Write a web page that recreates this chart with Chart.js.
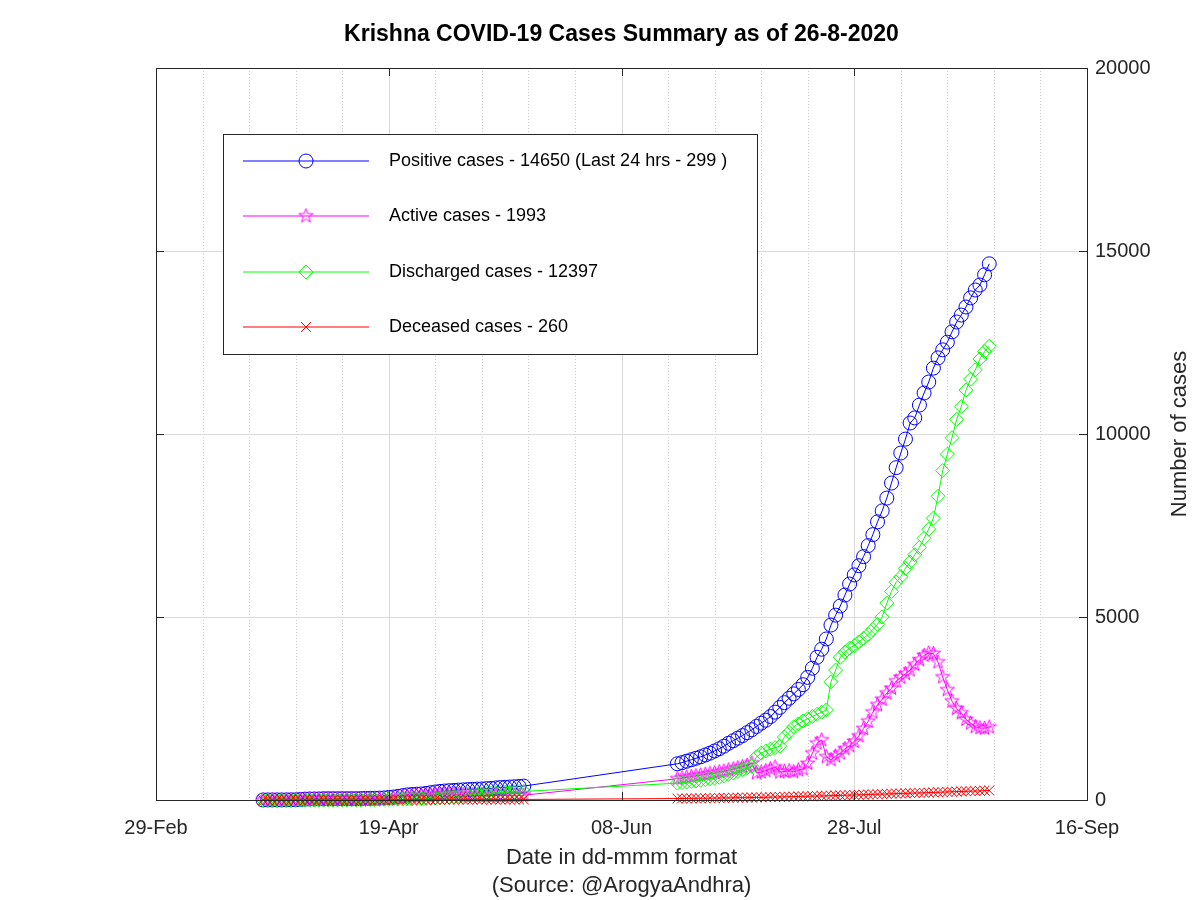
<!DOCTYPE html>
<html>
<head>
<meta charset="utf-8">
<script src="https://cdn.jsdelivr.net/npm/chart.js@4.4.1/dist/chart.umd.min.js"></script>
<style>
  html, body { margin: 0; padding: 0; background: #fff; }
</style>
</head>
<body>
<canvas id="chart" width="1200" height="900"></canvas>
<script>
/* --- data (days counted from 29-Feb-2020) --- */
const xTickLabels = ['29-Feb', '19-Apr', '08-Jun', '28-Jul', '16-Sep'];
const seriesNames = [
  'Positive cases - 14650 (Last 24 hrs - 299 )',
  'Active cases - 1993',
  'Discharged cases - 12397',
  'Deceased cases - 260'
];
// two reporting stretches: 23-Mar .. 18-May and 20-Jun .. 26-Aug
const firstStretch = [23, 79];
const secondStretch = [112, 179];

const positive = [
  1, 1, 2, 2, 2, 3, 4, 5, 15, 23,
  28, 28, 29, 35, 35, 35, 35, 36, 36, 36,
  36, 40, 44, 45, 48, 52, 56, 70, 80, 100,
  120, 140, 150, 158, 165, 180, 200, 220, 235, 245,
  255, 262, 270, 278, 285, 292, 298, 302, 310, 316,
  330, 340, 348, 355, 362, 370, 380,
  990, 1020, 1060, 1100, 1140, 1180, 1230, 1280, 1340, 1400,
  1470, 1550, 1620, 1690, 1760, 1840, 1920, 2010, 2100, 2180,
  2280, 2400, 2530, 2660, 2780, 2900, 3020, 3150, 3350, 3600,
  3900, 4120, 4400, 4780, 5050, 5300, 5600, 5900, 6150, 6400,
  6650, 6950, 7250, 7600, 7900, 8250, 8660, 9080, 9480, 9860,
  10300, 10440, 10790, 11120, 11420, 11800, 12080, 12300, 12510, 12790,
  13060, 13250, 13470, 13720, 13934, 14071, 14351, 14650
];
const active = [
  1, 1, 2, 2, 2, 3, 4, 5, 14, 22,
  27, 27, 28, 34, 34, 34, 33, 34, 33, 33,
  31, 33, 34, 33, 33, 35, 36, 47, 54, 70,
  88, 106, 114, 120, 122, 132, 147, 160, 167, 166,
  164, 158, 152, 148, 143, 136, 132, 126, 123, 119,
  123, 124, 125, 125, 126, 127, 130,
  580, 600, 620, 640, 660, 680, 700, 720, 740, 770,
  790, 820, 850, 880, 910, 950, 1010, 740, 760, 800,
  850, 900, 760, 780, 800, 770, 820, 850, 1000, 1280,
  1550, 1640, 1180, 1100, 1200, 1280, 1400, 1480, 1600, 1750,
  1950, 2150, 2400, 2600, 2750, 2920, 3050, 3250, 3350, 3450,
  3550, 3700, 3830, 3950, 4016, 4000, 3770, 3360, 3010, 2700,
  2500, 2380, 2200, 2100, 2000, 1970, 1960, 1993
];
const discharged = [
  0, 0, 0, 0, 0, 0, 0, 0, 0, 0,
  0, 0, 0, 0, 0, 0, 1, 1, 2, 2,
  3, 5, 8, 10, 12, 14, 16, 18, 20, 22,
  24, 26, 28, 30, 35, 40, 45, 52, 60, 70,
  82, 95, 108, 120, 132, 145, 155, 165, 175, 185,
  195, 203, 210, 216, 222, 228, 235,
  460, 475, 490, 505, 520, 540, 560, 580, 600, 620,
  660, 700, 740, 780, 830, 880, 920, 1180, 1280, 1340,
  1390, 1430, 1470, 1720, 1850, 2000, 2080, 2160, 2220, 2280,
  2340, 2400, 2460, 3230, 3550, 3900, 4040, 4150, 4220, 4320,
  4420, 4520, 4660, 4800, 5000, 5380, 5700, 5950, 6100, 6330,
  6500, 6700, 6900, 7150, 7400, 7700, 8300, 9000, 9450, 9900,
  10400, 10750, 11200, 11500, 11750, 12050, 12250, 12397
];
const deceased = [
  0, 0, 0, 0, 0, 0, 0, 0, 1, 1,
  1, 1, 1, 1, 1, 1, 1, 1, 1, 1,
  2, 2, 2, 2, 3, 3, 4, 5, 6, 8,
  8, 8, 8, 8, 8, 8, 8, 8, 8, 9,
  9, 9, 10, 10, 10, 11, 11, 11, 12, 12,
  12, 13, 13, 14, 14, 15, 15,
  40, 41, 42, 44, 45, 46, 48, 50, 52, 54,
  56, 58, 60, 62, 64, 66, 68, 70, 72, 75,
  78, 81, 84, 87, 90, 93, 96, 99, 102, 105,
  108, 111, 114, 118, 122, 126, 130, 134, 138, 142,
  146, 150, 154, 158, 162, 166, 170, 174, 178, 182,
  186, 190, 194, 198, 202, 206, 210, 215, 220, 225,
  229, 233, 237, 241, 245, 250, 255, 260
];

function dayRange(r) {
  const out = [];
  for (let d = r[0]; d <= r[1]; d++) out.push(d);
  return out;
}
const days = dayRange(firstStretch).concat(dayRange(secondStretch));
const toPoints = vals => vals.map((v, i) => ({ x: days[i], y: v }));

// pentagram marker like octave's 'p'
function starMarker(color, r) {
  const c = document.createElement('canvas');
  const s = Math.round(2 * r + 4);
  c.width = c.height = s;
  const g = c.getContext('2d');
  g.strokeStyle = color;
  g.lineWidth = 1;
  g.beginPath();
  for (let i = 0; i < 10; i++) {
    const rr = i % 2 ? r * 0.4 : r;
    const a = -Math.PI / 2 + i * Math.PI / 5;
    const px = s / 2 + rr * Math.cos(a), py = s / 2 + rr * Math.sin(a);
    if (i) g.lineTo(px, py); else g.moveTo(px, py);
  }
  g.closePath();
  g.stroke();
  return c;
}

const AXIS = '#262626';
const FONT = '"Liberation Sans", Arial, sans-serif';

function series(label, vals, color, style, radius, order) {
  return {
    label: label,
    data: toPoints(vals),
    borderColor: color,
    backgroundColor: 'rgba(0,0,0,0)',
    borderWidth: 1,
    pointStyle: style,
    pointRadius: radius,
    pointBorderColor: color,
    pointBackgroundColor: 'rgba(0,0,0,0)',
    pointBorderWidth: 1,
    pointHoverRadius: radius,
    tension: 0,
    clip: false,
    order: order
  };
}

function line(ctx, x1, y1, x2, y2) {
  ctx.beginPath(); ctx.moveTo(x1, y1); ctx.lineTo(x2, y2); ctx.stroke();
}

function drawMarker(ctx, ds, x, y) {
  const r = ds.pointRadius;
  ctx.strokeStyle = ds.borderColor;
  ctx.lineWidth = 1;
  if (ds.pointStyle instanceof HTMLCanvasElement) {
    ctx.drawImage(ds.pointStyle, x - ds.pointStyle.width / 2, y - ds.pointStyle.height / 2);
  } else if (ds.pointStyle === 'circle') {
    ctx.beginPath(); ctx.arc(x, y, r, 0, Math.PI * 2); ctx.stroke();
  } else if (ds.pointStyle === 'rectRot') {
    ctx.beginPath();
    ctx.moveTo(x, y - r); ctx.lineTo(x + r, y); ctx.lineTo(x, y + r); ctx.lineTo(x - r, y);
    ctx.closePath(); ctx.stroke();
  } else if (ds.pointStyle === 'crossRot') {
    const k = r * Math.SQRT1_2;
    line(ctx, x - k, y - k, x + k, y + k);
    line(ctx, x - k, y + k, x + k, y - k);
  }
}

const framePlugin = {
  id: 'frame',
  beforeDatasetsDraw(chart) {
    const { ctx, chartArea: a, scales: { x, y } } = chart;
    ctx.save();
    ctx.lineWidth = 1;
    ctx.strokeStyle = '#cccccc';
    ctx.setLineDash([1, 2]);
    for (let d = 10; d < 200; d += 10) {
      if (d % 50 === 0) continue;
      const px = Math.round(x.getPixelForValue(d)) + 0.5;
      line(ctx, px, a.top, px, a.bottom);
    }
    ctx.setLineDash([]);
    ctx.strokeStyle = '#dadada';
    for (let d = 50; d < 200; d += 50) {
      const px = Math.round(x.getPixelForValue(d)) + 0.5;
      line(ctx, px, a.top, px, a.bottom);
    }
    for (let v = 5000; v < 20000; v += 5000) {
      const py = Math.round(y.getPixelForValue(v)) + 0.5;
      line(ctx, a.left, py, a.right, py);
    }
    ctx.restore();
  },
  afterDatasetsDraw(chart) {
    const { ctx, chartArea: a, scales: { x, y } } = chart;
    ctx.save();
    // axes box + inward ticks
    ctx.strokeStyle = AXIS;
    ctx.lineWidth = 1;
    ctx.strokeRect(Math.round(a.left) + 0.5, Math.round(a.top) + 0.5,
      Math.round(a.right - a.left), Math.round(a.bottom - a.top));
    const tl = 8;
    for (let d = 50; d < 200; d += 50) {
      const px = Math.round(x.getPixelForValue(d)) + 0.5;
      line(ctx, px, a.bottom, px, a.bottom - tl);
      line(ctx, px, a.top, px, a.top + tl);
    }
    for (let v = 5000; v < 20000; v += 5000) {
      const py = Math.round(y.getPixelForValue(v)) + 0.5;
      line(ctx, a.left, py, a.left + tl, py);
      line(ctx, a.right, py, a.right - tl, py);
    }

    // legend
    const lx = 223, ly = 134, lw = 534, lh = 220;
    ctx.fillStyle = '#fff';
    ctx.fillRect(lx, ly, lw, lh);
    ctx.strokeStyle = AXIS;
    ctx.strokeRect(lx + 0.5, ly + 0.5, lw, lh);
    ctx.font = '18px ' + FONT;
    ctx.textBaseline = 'middle';
    ctx.textAlign = 'left';
    chart.data.datasets.forEach((ds, i) => {
      const ry = Math.round(ly + 27 + i * 55.3);
      ctx.strokeStyle = ds.borderColor;
      ctx.lineWidth = 1;
      line(ctx, lx + 20, ry, lx + 146, ry);
      drawMarker(ctx, ds, lx + 83, ry);
      ctx.fillStyle = '#000';
      ctx.fillText(ds.label, lx + 166, ry);
    });

    // title and right axis label
    ctx.fillStyle = '#000';
    ctx.textAlign = 'center';
    ctx.font = 'bold 23px ' + FONT;
    ctx.fillText('Krishna COVID-19 Cases Summary as of 26-8-2020', (a.left + a.right) / 2, 35);
    ctx.font = '22px ' + FONT;
    ctx.fillStyle = AXIS;
    ctx.translate(1180, (a.top + a.bottom) / 2);
    ctx.rotate(-Math.PI / 2);
    ctx.fillText('Number of cases', 0, 0);
    ctx.restore();
  }
};

Chart.defaults.font.family = FONT;
Chart.defaults.color = AXIS;

new Chart(document.getElementById('chart'), {
  type: 'line',
  data: {
    datasets: [
      series(seriesNames[0], positive, '#0000ff', 'circle', 7, 4),
      series(seriesNames[1], active, '#ff00ff', starMarker('#ff00ff', 7.5), 7, 3),
      series(seriesNames[2], discharged, '#00ff00', 'rectRot', 7, 2),
      series(seriesNames[3], deceased, '#ff0000', 'crossRot', 7, 1)
    ]
  },
  options: {
    responsive: false,
    animation: false,
    devicePixelRatio: 1,
    layout: { padding: { top: 68, left: 156, right: 0, bottom: 0 } },
    plugins: { legend: { display: false }, tooltip: { enabled: false }, title: { display: false } },
    scales: {
      x: {
        type: 'linear',
        min: 0,
        max: 200,
        grid: { display: false, drawTicks: false },
        border: { display: false },
        ticks: {
          stepSize: 50,
          autoSkip: false,
          maxRotation: 0,
          padding: 16,
          font: { size: 20 },
          callback: v => xTickLabels[v / 50]
        },
        title: {
          display: true,
          text: ['Date in dd-mmm format', '(Source: @ArogyaAndhra)'],
          font: { size: 22, lineHeight: 28 / 22 },
          padding: { top: 0, bottom: 0 }
        },
        afterFit: s => { s.height = 100; }
      },
      y: {
        position: 'right',
        min: 0,
        max: 20000,
        grid: { display: false, drawTicks: false },
        border: { display: false },
        ticks: { stepSize: 5000, padding: 8, font: { size: 20 }, callback: v => String(v) },
        afterFit: s => { s.width = 113; }
      }
    }
  },
  plugins: [framePlugin]
});
</script>
</body>
</html>
